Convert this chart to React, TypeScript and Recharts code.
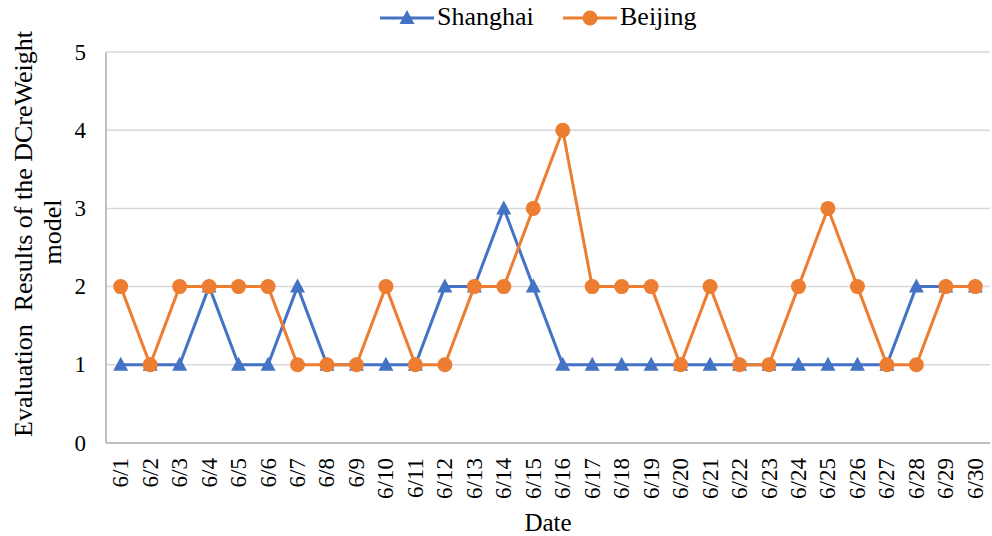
import React from "react";
import { LineChart, Line, XAxis, YAxis, CartesianGrid } from "recharts";

const dates = ["6/1", "6/2", "6/3", "6/4", "6/5", "6/6", "6/7", "6/8", "6/9", "6/10", "6/11", "6/12", "6/13", "6/14", "6/15", "6/16", "6/17", "6/18", "6/19", "6/20", "6/21", "6/22", "6/23", "6/24", "6/25", "6/26", "6/27", "6/28", "6/29", "6/30"];
const shanghai = [1, 1, 1, 2, 1, 1, 2, 1, 1, 1, 1, 2, 2, 3, 2, 1, 1, 1, 1, 1, 1, 1, 1, 1, 1, 1, 1, 2, 2, 2];
const beijing = [2, 1, 2, 2, 2, 2, 1, 1, 1, 2, 1, 1, 2, 2, 3, 4, 2, 2, 2, 1, 2, 1, 1, 2, 3, 2, 1, 1, 2, 2];
const yTicks = [0, 1, 2, 3, 4, 5];

const data = dates.map((d, i) => ({ date: d, shanghai: shanghai[i], beijing: beijing[i] }));

const BLUE = "#4472C4";
const ORANGE = "#ED7D31";
const FONT = "'Liberation Serif', 'Times New Roman', serif";

const Triangle = ({ cx, cy }: any) => {
    if (cx == null || cy == null) return null;
    return <polygon points={`${cx},${cy - 8} ${cx + 7.5},${cy + 6} ${cx - 7.5},${cy + 6}`} fill={BLUE} />;
};

const XTick = ({ x, y, payload }: any) => (
    <text x={x} y={y} transform={`rotate(-90 ${x} ${y})`} textAnchor="end" dominantBaseline="central" fill="#000" style={{ fontSize: 23, fontFamily: FONT }}>
        {payload.value}
    </text>
);

const YTick = ({ x, y, payload }: any) => (
    <text x={x} y={y} textAnchor="end" dominantBaseline="central" fill="#000" style={{ fontSize: 23, fontFamily: FONT }}>
        {payload.value}
    </text>
);

const YTitle = () => (
    <g style={{ fontFamily: FONT, fontSize: 26 }} fill="#000">
        <text x={32} y={234} transform="rotate(-90 32 234)" textAnchor="middle">Evaluation&#160; Results of the DCreWeight</text>
        <text x={61} y={232} transform="rotate(-90 61 232)" textAnchor="middle">model</text>
    </g>
);

const Legend = () => (
    <div style={{ position: "absolute", left: 0, top: 0, width: 992, height: 40, fontFamily: FONT, fontSize: 26, color: "#000" }}>
        <svg width={60} height={20} style={{ position: "absolute", left: 378, top: 8 }}>
            <line x1={2} y1={10} x2={56} y2={10} stroke={BLUE} strokeWidth={3} />
            <polygon points="29,2 36.5,16 21.5,16" fill={BLUE} />
        </svg>
        <span style={{ position: "absolute", left: 437, top: 2, lineHeight: "30px" }}>Shanghai</span>
        <svg width={60} height={20} style={{ position: "absolute", left: 561, top: 8 }}>
            <line x1={2} y1={10} x2={56} y2={10} stroke={ORANGE} strokeWidth={3} />
            <circle cx={29} cy={10} r={7.5} fill={ORANGE} />
        </svg>
        <span style={{ position: "absolute", left: 620, top: 2, lineHeight: "30px" }}>Beijing</span>
    </div>
);

export default function App() {
    return (
        <div style={{ position: "absolute", left: 0, top: 0, width: 992, height: 536, background: "#fff" }}>
            <LineChart width={992} height={536} data={data} margin={{ top: 52, right: 2, left: 46, bottom: 33 }}>
                <CartesianGrid stroke="#d9d9d9" strokeWidth={1.5} vertical={false} />
                <XAxis
                    dataKey="date"
                    interval={0}
                    height={60}
                    padding={{ left: 14.7, right: 14.7 }}
                    axisLine={{ stroke: "#bfbfbf", strokeWidth: 2 }}
                    tickLine={false}
                    tickSize={0}
                    tickMargin={15}
                    tick={<XTick />}
                    label={{
                        content: () => (
                            <text x={548} y={531} textAnchor="middle" style={{ fontFamily: FONT, fontSize: 25 }} fill="#000">Date</text>
                        ),
                    }}
                />
                <YAxis
                    domain={[0, 5]}
                    ticks={yTicks}
                    width={60}
                    axisLine={{ stroke: "#bfbfbf", strokeWidth: 2 }}
                    tickLine={false}
                    tickSize={0}
                    tickMargin={20}
                    tick={<YTick />}
                    label={{ content: () => <YTitle /> }}
                />
                <Line dataKey="shanghai" stroke={BLUE} strokeWidth={3} dot={<Triangle />} activeDot={false} isAnimationActive={false} />
                <Line dataKey="beijing" stroke={ORANGE} strokeWidth={3} dot={{ r: 7.5, fill: ORANGE, stroke: "none" }} activeDot={false} isAnimationActive={false} />
            </LineChart>
            <Legend />
        </div>
    );
}
